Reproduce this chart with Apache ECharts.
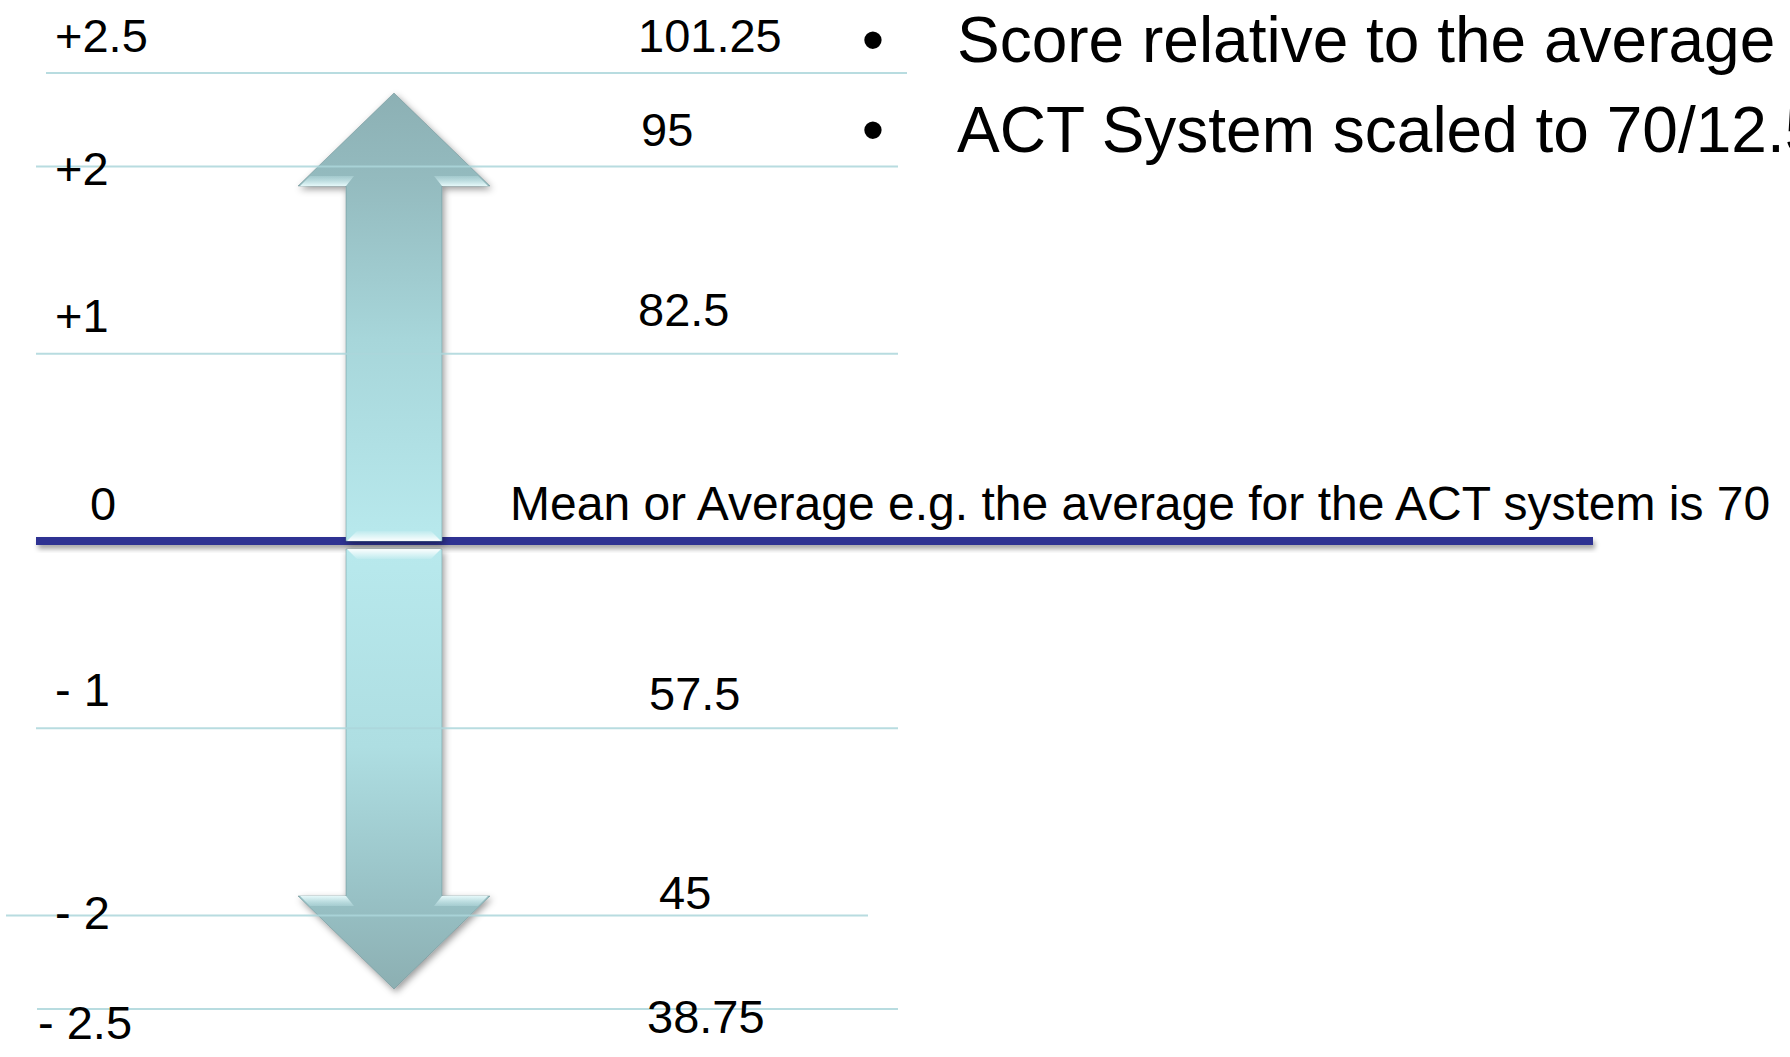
<!DOCTYPE html>
<html>
<head>
<meta charset="utf-8">
<title>Score relative to the average</title>
<script src="https://cdn.jsdelivr.net/npm/echarts@6/dist/echarts.min.js"></script>
<style>
html, body { margin: 0; padding: 0; background: #fff; }
#main { width: 1790px; height: 1057px; }
</style>
</head>
<body>
<div id="main"></div>
<script>
// 数据
const sdLabels = ['+2.5', '+2', '+1', '0', '- 1', '- 2', '- 2.5'];
const scores = [101.25, 95, 82.5, 70, 57.5, 45, 38.75];
const scoreLabels = ['101.25', '95', '82.5', '', '57.5', '45', '38.75'];
const meanScore = 70;
const meanNote = 'Mean or Average e.g. the average for the ACT system is 70';
const notes = ['Score relative to the average', 'ACT System scaled to 70/12.5'];
const arrowEnds = [101.25, 38.75];   // 箭头从平均值指向两端

// 样式 / 布局
const FONT = '"Liberation Sans", Arial, sans-serif';
const lineSpan = [[46, 907], [36, 898], [36, 898], [36, 1593], [36, 898], [6, 868], [37, 898]];
const sdLabelX = [55, 55, 55, 90, 55, 55, 38];
const sdLabelDy = [-38, 2, -38, -38, -39, -3, 13];
const scoreLabelX = [638, 641, 638, 510, 649, 659, 647];
const scoreLabelDy = [-38, -37, -44, -38, -35, -23, 7];
const arrowX = 394;

const chart = echarts.init(document.getElementById('main'), null, { renderer: 'svg' });

function text(x, y, str, size, align) {
    return {
        type: 'text',
        x: x,
        y: y,
        style: {
            text: str,
            fill: '#000',
            fontSize: size,
            fontFamily: FONT,
            align: align || 'left',
            verticalAlign: 'middle'
        }
    };
}

// 平均线（深蓝色粗线），用矩形画，阴影才会显示
function renderMean(params, api) {
    const y = api.coord([0, api.value(1)])[1];
    const i = scores.indexOf(meanScore);
    const x1 = api.coord([lineSpan[i][0], meanScore])[0];
    const x2 = api.coord([lineSpan[i][1], meanScore])[0];
    return {
        type: 'rect',
        shape: { x: x1, y: y - 4, width: x2 - x1, height: 8 },
        style: {
            fill: '#2e3192',
            shadowBlur: 5,
            shadowOffsetX: 2,
            shadowOffsetY: 4,
            shadowColor: 'rgba(0,0,0,0.35)'
        }
    };
}

// 双向箭头
function renderArrow(params, api) {
    const x = api.coord([arrowX, meanScore])[0];
    const y0 = api.coord([arrowX, meanScore])[1];
    const y1 = api.coord([arrowX, api.value(1)])[1];
    const dir = y1 < y0 ? -1 : 1;
    const tip = y1 - dir * 20;
    const base = tip - dir * 93;
    const start = y0 + (dir > 0 ? 8 : 0);
    const sw = 48, hw = 96;
    const up = dir < 0;
    const fill = new echarts.graphic.LinearGradient(0, 0, 0, 1, up ? [
        { offset: 0, color: '#8cb0b4' },
        { offset: 0.2, color: '#94bbbf' },
        { offset: 0.55, color: '#a7d6da' },
        { offset: 1, color: '#b8e9ed' }
    ] : [
        { offset: 0, color: '#b8e9ed' },
        { offset: 0.45, color: '#aedee2' },
        { offset: 0.8, color: '#97c0c4' },
        { offset: 1, color: '#8cafb2' }
    ]);
    const bevel = new echarts.graphic.LinearGradient(0, up ? 1 : 0, 0, up ? 0 : 1, [
        { offset: 0, color: 'rgba(255,255,255,0.95)' },
        { offset: 1, color: 'rgba(255,255,255,0.1)' }
    ]);
    const wing = new echarts.graphic.LinearGradient(0, up ? 1 : 0, 0, up ? 0 : 1, [
        { offset: 0, color: 'rgba(235,252,253,0.95)' },
        { offset: 1, color: 'rgba(200,235,238,0.3)' }
    ]);
    return {
        type: 'group',
        children: [
            {
                type: 'polygon',
                shape: { points: [[x - sw, start], [x - sw, base], [x - hw, base], [x, tip], [x + hw, base], [x + sw, base], [x + sw, start]] },
                style: {
                    fill: fill,
                    stroke: 'rgba(95,130,135,0.45)',
                    lineWidth: 1,
                    shadowBlur: 7,
                    shadowOffsetX: 2,
                    shadowOffsetY: 3,
                    shadowColor: 'rgba(0,0,0,0.4)'
                }
            },
            {
                type: 'polygon',
                shape: { points: [[x - sw + 1, start], [x + sw - 1, start], [x + sw - 11, start + dir * 10], [x - sw + 11, start + dir * 10]] },
                style: { fill: bevel }
            },
            {
                type: 'polygon',
                shape: { points: [[x - hw + 2, base], [x - sw, base], [x - sw + 8, base + dir * 10], [x - hw + 12, base + dir * 10]] },
                style: { fill: wing }
            },
            {
                type: 'polygon',
                shape: { points: [[x + hw - 2, base], [x + sw, base], [x + sw - 8, base + dir * 10], [x + hw - 12, base + dir * 10]] },
                style: { fill: wing }
            }
        ]
    };
}

// 各标准差刻度线和文字
function renderLevels(params, api) {
    const i = params.dataIndex;
    const s = api.value(1);
    const y = api.coord([0, s])[1];
    const children = [];
    if (s !== meanScore) {
        children.push({
            type: 'line',
            shape: {
                x1: api.coord([lineSpan[i][0], s])[0], y1: y,
                x2: api.coord([lineSpan[i][1], s])[0], y2: y
            },
            style: { stroke: '#acd6da', lineWidth: 2, opacity: 0.85 }
        });
    }
    children.push(text(sdLabelX[i], y + sdLabelDy[i], sdLabels[i], 47));
    if (scoreLabels[i]) {
        children.push(text(scoreLabelX[i], y + scoreLabelDy[i], scoreLabels[i], 47));
    } else {
        children.push(text(scoreLabelX[i], y + scoreLabelDy[i], meanNote, 48));
    }
    return { type: 'group', children: children };
}

const noteY = [40, 130];
const graphics = [];
notes.forEach((t, k) => {
    graphics.push(text(873, noteY[k], '\u2022', 64, 'center'));
    graphics.push(text(957, noteY[k], t, 64));
});

const option = {
    backgroundColor: '#fff',
    animation: false,
    grid: { left: 0, right: 0, top: 73, bottom: 48 },
    xAxis: { type: 'value', min: 0, max: 1790, show: false },
    yAxis: { type: 'value', min: 38.75, max: 101.25, show: false },
    graphic: graphics,
    series: [
        {
            name: 'mean',
            type: 'custom',
            z: 1,
            renderItem: renderMean,
            encode: { x: 0, y: 1 },
            data: [[0, meanScore]]
        },
        {
            name: 'arrow',
            type: 'custom',
            z: 2,
            renderItem: renderArrow,
            encode: { x: 0, y: 1 },
            data: arrowEnds.map(v => [arrowX, v])
        },
        {
            name: 'levels',
            type: 'custom',
            z: 3,
            renderItem: renderLevels,
            encode: { x: 0, y: 1 },
            data: scores.map(v => [0, v])
        }
    ]
};
chart.setOption(option);

window.onresize = () => {
    chart.resize();
};
</script>
</body>
</html>
